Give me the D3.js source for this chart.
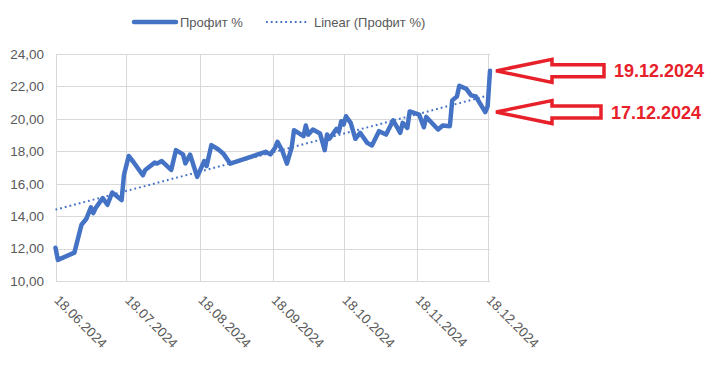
<!DOCTYPE html>
<html>
  <head>
    <meta charset="utf-8">
    <title>Профит %</title>
    <style>
      body { margin: 0; background: #fff; }
      svg { display: block; font-family: "Liberation Sans", Arial, sans-serif; }
      .grid { stroke: #d9d9d9; stroke-width: 1; shape-rendering: crispEdges; }
      .axis-label { fill: #595959; }
      .note { fill: #e8202a; font-weight: bold; font-size: 18px; }
    </style>
  </head>
  <body>
    <script src="https://cdn.jsdelivr.net/npm/d3@7"></script>
    <script>

        // profit series
        var dates = [
          "2024-06-18", "2024-06-19", "2024-06-26", "2024-06-29", "2024-07-01", "2024-07-03", "2024-07-04", "2024-07-05", "2024-07-08", "2024-07-10",
          "2024-07-12", "2024-07-16", "2024-07-17", "2024-07-19", "2024-07-21", "2024-07-25", "2024-07-26", "2024-07-30", "2024-07-31", "2024-08-02",
          "2024-08-06", "2024-08-08", "2024-08-11", "2024-08-12", "2024-08-14", "2024-08-15", "2024-08-17", "2024-08-20", "2024-08-21", "2024-08-23",
          "2024-08-26", "2024-08-28", "2024-08-31", "2024-09-13", "2024-09-15", "2024-09-17", "2024-09-19", "2024-09-20", "2024-09-22", "2024-09-24",
          "2024-09-26", "2024-09-27", "2024-10-01", "2024-10-02", "2024-10-03", "2024-10-05", "2024-10-08", "2024-10-10", "2024-10-11", "2024-10-12",
          "2024-10-15", "2024-10-16", "2024-10-17", "2024-10-18", "2024-10-19", "2024-10-21", "2024-10-23", "2024-10-25", "2024-10-28", "2024-10-30",
          "2024-11-02", "2024-11-05", "2024-11-08", "2024-11-11", "2024-11-12", "2024-11-14", "2024-11-15", "2024-11-19", "2024-11-21", "2024-11-22",
          "2024-11-27", "2024-11-29", "2024-12-02", "2024-12-03", "2024-12-05", "2024-12-06", "2024-12-09", "2024-12-11", "2024-12-13", "2024-12-17",
          "2024-12-18", "2024-12-19"
        ];
        var profit = [
          12.05, 11.3, 11.75, 13.47, 13.82, 14.54, 14.19, 14.5, 15.11, 14.7,
          15.46, 14.99, 16.54, 17.71, 17.34, 16.52, 16.85, 17.3, 17.24, 17.4,
          16.85, 18.07, 17.81, 17.25, 17.79, 17.34, 16.42, 17.4, 17.09, 18.38,
          18.11, 17.87, 17.24, 17.87, 17.97, 17.81, 18.22, 18.58, 18.05, 17.24,
          18.22, 19.3, 18.93, 19.59, 19.03, 19.34, 19.1, 18.07, 19.03, 18.77,
          19.38, 19.2, 19.85, 19.65, 20.16, 19.75, 18.77, 19.14, 18.52, 18.36,
          19.24, 19.03, 19.91, 19.14, 19.75, 19.44, 20.46, 20.26, 19.48, 20.12,
          19.34, 19.59, 19.55, 21.14, 21.38, 22.04, 21.85, 21.45, 21.38, 20.42,
          20.77, 22.96
        ];

        // linear trend ends
        var trendDates = ["2024-06-18", "2024-12-19"];
        var trendValues = [14.4, 21.47];

        // axis ticks
        var yTicks = [10, 12, 14, 16, 18, 20, 22, 24];
        var xTickDates = ["2024-06-18", "2024-07-18", "2024-08-18", "2024-09-18", "2024-10-18", "2024-11-18", "2024-12-18"];

        // red arrow notes
        var noteDates = ["2024-12-19", "2024-12-17"];
        var noteLabels = ["19.12.2024", "17.12.2024"];

        var legendLabels = ["Профит %", "Linear (Профит %)"];

        var blue = "#4472c4";
        var W = 722, H = 366;
        var plot = {left: 55.5, right: 490, top: 54, bottom: 281};

        var parse = d3.utcParse("%Y-%m-%d");
        var fmtDate = d3.utcFormat("%d.%m.%Y");

        var data = dates.map(function(d, i) { return {date: parse(d), value: profit[i]}; });
        var trend = trendDates.map(function(d, i) { return {date: parse(d), value: trendValues[i]}; });

        var x = d3.scaleUtc()
                  .domain([parse("2024-06-18"), parse("2024-12-19")])
                  .range([plot.left, plot.right]);
        var y = d3.scaleLinear()
                  .domain([10, 24])
                  .range([plot.bottom, plot.top]);

        var svg = d3.select("body").append("svg")
            .attr("width", W)
            .attr("height", H);

        svg.append("rect").attr("width", W).attr("height", H).attr("fill", "#fff");

        // horizontal grid
        svg.append("g").selectAll("line")
            .data(yTicks)
            .enter().append("line")
            .attr("class", "grid")
            .attr("x1", plot.left)
            .attr("x2", plot.right)
            .attr("y1", function(d) { return Math.round(y(d)) + 0.5; })
            .attr("y2", function(d) { return Math.round(y(d)) + 0.5; });

        // vertical grid (monthly)
        svg.append("g").selectAll("line")
            .data(xTickDates)
            .enter().append("line")
            .attr("class", "grid")
            .attr("x1", function(d) { return Math.round(x(parse(d))) + 0.5; })
            .attr("x2", function(d) { return Math.round(x(parse(d))) + 0.5; })
            .attr("y1", plot.top)
            .attr("y2", plot.bottom);

        // y labels
        svg.append("g").selectAll("text")
            .data(yTicks)
            .enter().append("text")
            .attr("class", "axis-label")
            .attr("x", 44)
            .attr("y", function(d) { return y(d); })
            .attr("dy", "0.36em")
            .attr("text-anchor", "end")
            .style("font-size", "13.5px")
            .text(function(d) { return d.toFixed(2).replace(".", ","); });

        // x labels, rotated
        svg.append("g").selectAll("text")
            .data(xTickDates)
            .enter().append("text")
            .attr("class", "axis-label")
            .attr("transform", function(d) { return "translate(" + (x(parse(d)) - 2) + ",301) rotate(45)"; })
            .attr("text-anchor", "start")
            .style("font-size", "13.5px")
            .text(function(d) { return fmtDate(parse(d)); });

        var line = d3.line()
            .x(function(d) { return x(d.date); })
            .y(function(d) { return y(d.value); });

        // trend line
        svg.append("path")
            .datum(trend)
            .attr("d", line)
            .attr("fill", "none")
            .attr("stroke", blue)
            .attr("stroke-width", 2)
            .attr("stroke-dasharray", "1.8,3");

        // profit line
        svg.append("path")
            .datum(data)
            .attr("d", line)
            .attr("fill", "none")
            .attr("stroke", blue)
            .attr("stroke-width", 4.5)
            .attr("stroke-linejoin", "round")
            .attr("stroke-linecap", "round");

        // legend
        var legend = svg.append("g");
        legend.append("line")
            .attr("x1", 134).attr("x2", 176).attr("y1", 22).attr("y2", 22)
            .attr("stroke", blue).attr("stroke-width", 4.5).attr("stroke-linecap", "round");
        legend.append("text")
            .attr("class", "axis-label").attr("x", 180).attr("y", 27)
            .style("font-size", "13px").text(legendLabels[0]);
        legend.append("line")
            .attr("x1", 266).attr("x2", 308).attr("y1", 22).attr("y2", 22)
            .attr("stroke", blue).attr("stroke-width", 2).attr("stroke-dasharray", "1.8,3");
        legend.append("text")
            .attr("class", "axis-label").attr("x", 314).attr("y", 27)
            .style("font-size", "13px").text(legendLabels[1]);

        // arrows pointing at the last days
        var tipX = x(parse(trendDates[1])) + 6;
        noteDates.forEach(function(nd, i) {
          var pt = data.filter(function(d) { return +d.date === +parse(nd); })[0];
          var ty = y(pt.value);
          var len = 108 - i * 3, head = 56, hh = 11.5, sh = 6;
          var pts = [
            [tipX, ty],
            [tipX + head, ty - hh],
            [tipX + head, ty - sh],
            [tipX + len, ty - sh],
            [tipX + len, ty + sh],
            [tipX + head, ty + sh],
            [tipX + head, ty + hh]
          ];
          svg.append("path")
            .attr("d", "M" + pts.join("L") + "Z")
            .attr("fill", "#fff")
            .attr("stroke", "#e8202a")
            .attr("stroke-width", 3.5)
            .attr("stroke-linejoin", "miter");
          svg.append("text")
            .attr("class", "note")
            .attr("x", tipX + len + 10)
            .attr("y", ty + 6.5)
            .text(noteLabels[i]);
        });

    </script>
  </body>
</html>
